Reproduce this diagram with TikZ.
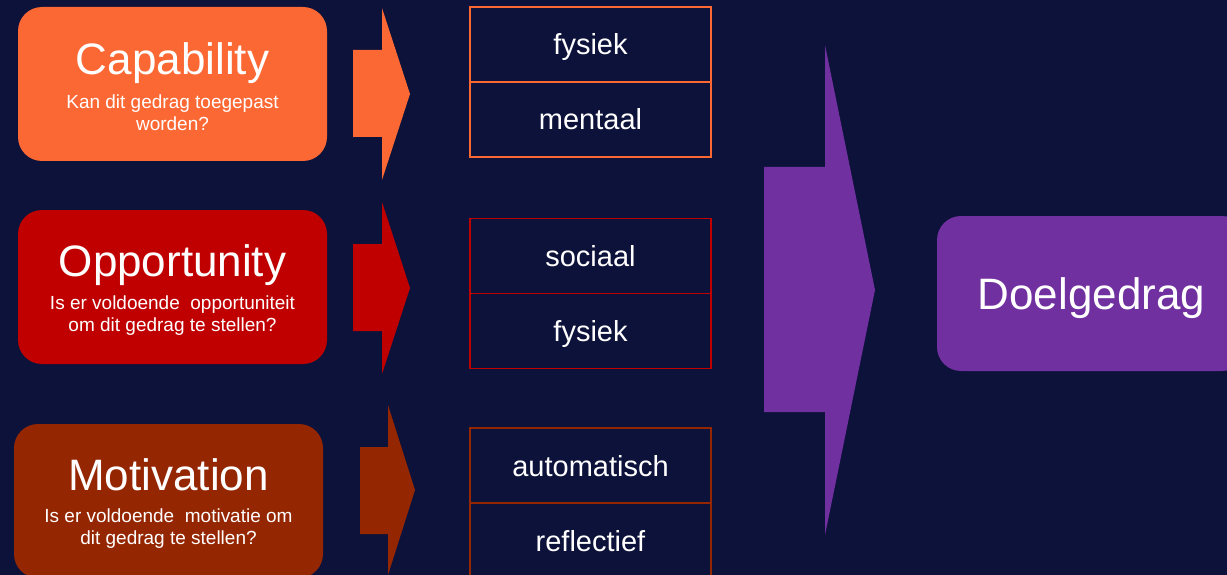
\documentclass[tikz,border=0pt]{standalone}
\usepackage{fontspec}
\setmainfont{Liberation Sans}
\usetikzlibrary{positioning}

\definecolor{achtergrond}{RGB}{13,18,58}
\definecolor{oranje}{RGB}{252,104,52}
\definecolor{rood}{RGB}{192,0,0}
\definecolor{bruin}{RGB}{148,38,2}
\definecolor{paars}{RGB}{112,48,160}

\newcommand{\kop}[1]{{\fontsize{44}{44}\selectfont #1}}

\begin{document}
\begin{tikzpicture}[
        x=1pt, y=-1pt,
        bron/.style={rectangle, rounded corners=24pt, minimum width=309pt, minimum height=154pt, inner sep=0pt, align=center, text=white, font=\fontsize{19}{22}\selectfont},
        deel/.style={rectangle, draw, line width=1.8pt, outer sep=0pt, minimum width=241pt, minimum height=75pt, text height=21pt, text depth=0pt, text=white, font=\fontsize{29}{32}\selectfont},
        pijl/.style={draw=none}
    ]
        \useasboundingbox (0,0) rectangle (1227,575);
        \fill[achtergrond] (0,0) rectangle (1227,575);

        % COM-B blokken
        \node[bron, fill=oranje] (capability) at (172.5,84) {};
        \node[text=white, align=center, font=\fontsize{19}{22}\selectfont] (capabilityT) at (172.5,87) {\kop{Capability}\\[10pt]Kan dit gedrag toegepast\\worden?};
        \node[bron, fill=rood] (opportunity) at (172.5,287) {};
        \node[text=white, align=center, font=\fontsize{19}{22}\selectfont] (opportunityT) at (172.5,290) {\kop{Opportunity}\\[10pt]Is er voldoende~ opportuniteit\\om dit gedrag te stellen?};
        \node[bron, fill=bruin] (motivation) at (168.5,501) {};
        \node[text=white, align=center, font=\fontsize{19}{22}\selectfont] (motivationT) at (168.5,504) {\kop{Motivation}\\[10pt]Is er voldoende~ motivatie om\\dit gedrag te stellen?};

        % blokpijlen
        \fill[pijl, oranje] (353,50) -- (382,50) -- (382,8) -- (410,94) -- (382,180) -- (382,137) -- (353,137) -- cycle;
        \fill[pijl, rood] (353,244) -- (382,244) -- (382,202) -- (410,288) -- (382,374) -- (382,331) -- (353,331) -- cycle;
        \fill[pijl, bruin] (360,447) -- (388,447) -- (388,405) -- (415,490) -- (388,575) -- (388,534) -- (360,534) -- cycle;
        \fill[pijl, paars] (764,167) -- (825,167) -- (825,45) -- (875,290) -- (825,535) -- (825,412) -- (764,412) -- cycle;

        % onderdelen
        \node[deel, draw=oranje] (fysiekC) at (590.5,44.5) {fysiek};
        \node[deel, draw=oranje, below=0pt of fysiekC] (mentaal) {mentaal};
        \node[deel, draw=rood] (sociaal) at (590.5,256) {sociaal};
        \node[deel, draw=rood, below=0pt of sociaal] (fysiekO) {fysiek};
        \node[deel, draw=bruin] (automatisch) at (590.5,465.5) {automatisch};
        \node[deel, draw=bruin, below=0pt of automatisch] (reflectief) {reflectief};

        \node[bron, fill=paars, minimum height=155pt, text depth=0pt, font=\fontsize{44}{44}\selectfont] (doel) at (1091.5,293.5) {Doelgedrag};
    \end{tikzpicture}
\end{document}
